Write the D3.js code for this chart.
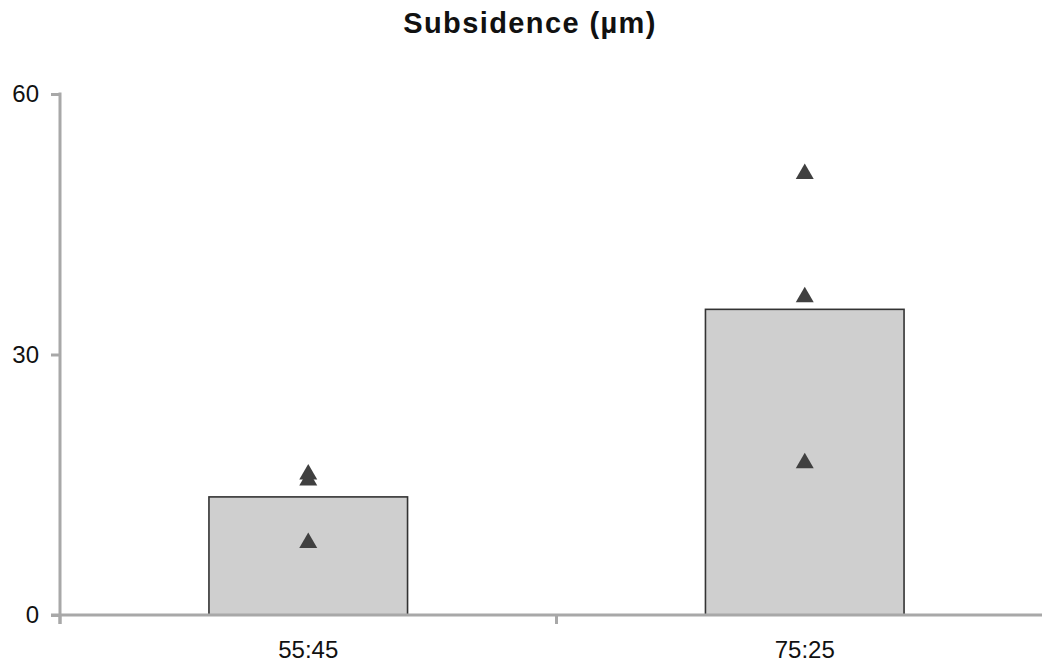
<!DOCTYPE html>
<html>
<head>
<meta charset="utf-8">
<script src="https://cdn.jsdelivr.net/npm/d3@7"></script>
<style>
html,body{margin:0;padding:0;background:#fff;}
svg{display:block;font-family:"Liberation Sans",Arial,Helvetica,sans-serif;}
</style>
</head>
<body>
<svg id="chart" width="1042" height="664"></svg>
<script>
const title = "Subsidence (µm)";
const categories = ["55:45", "75:25"];
const means = [13.6, 35.2];
const points55 = [16.5, 15.8, 8.6];
const points75 = [51.1, 36.9, 17.8];
const yTicks = [0, 30, 60];

const pointSets = [points55, points75];

const svg = d3.select("#chart");
const W = 1042, H = 664;
const x0 = 60, x1 = 1053, yTop = 94, yBot = 615;

const x = d3.scaleBand().domain(categories).range([x0, x1]).paddingInner(0.6).paddingOuter(0.3);
const y = d3.scaleLinear().domain([0, 60]).range([yBot, yTop]);

const axisColor = "#a8a8a8";

// title
svg.append("text")
  .attr("x", 530).attr("y", 33)
  .attr("text-anchor", "middle")
  .attr("font-size", 29).attr("font-weight", "bold")
  .attr("letter-spacing", 1.4)
  .attr("fill", "#111")
  .text(title);

// bars
svg.selectAll("rect.bar").data(categories).enter().append("rect")
  .attr("class", "bar")
  .attr("x", d => x(d))
  .attr("width", x.bandwidth())
  .attr("y", (d, i) => y(means[i]))
  .attr("height", (d, i) => y(0) - y(means[i]))
  .attr("fill", "#cfcfcf")
  .attr("stroke", "#333")
  .attr("stroke-width", 1.6);

// y axis
const yAxis = d3.axisLeft(y).tickValues(yTicks).tickSize(9).tickPadding(12).tickFormat(d3.format("d"));
const gy = svg.append("g").attr("transform", `translate(${x0},0)`).call(yAxis);
gy.select(".domain").remove();
gy.selectAll(".tick line").attr("stroke", axisColor).attr("stroke-width", 3);
gy.selectAll(".tick text").attr("font-size", 24).attr("fill", "#111").attr("font-family", "Liberation Sans, Arial, sans-serif");
svg.append("line").attr("x1", x0).attr("x2", x0).attr("y1", yTop - 1.5).attr("y2", yBot + 9)
  .attr("stroke", axisColor).attr("stroke-width", 3);

// x axis
const xAxis = d3.axisBottom(x).tickSize(0).tickPadding(26);
const gx = svg.append("g").attr("transform", `translate(0,${yBot})`).call(xAxis);
gx.select(".domain").remove();
gx.selectAll(".tick text").attr("font-size", 24).attr("fill", "#111").attr("font-family", "Liberation Sans, Arial, sans-serif");
svg.append("line").attr("x1", x0 - 9).attr("x2", W).attr("y1", yBot).attr("y2", yBot)
  .attr("stroke", axisColor).attr("stroke-width", 3);
// category boundary ticks
const step = x.step();
const boundaries = categories.map((c, i) => x(c) - step * x.paddingInner() / 2).slice(1);
svg.selectAll("line.xtick").data([x0].concat(boundaries, [x0 + 2 * (boundaries[0] - x0)])).enter().append("line")
  .attr("class", "xtick")
  .attr("x1", d => d).attr("x2", d => d)
  .attr("y1", yBot).attr("y2", yBot + 9)
  .attr("stroke", axisColor).attr("stroke-width", 3);

// triangles
const triSize = 140;
const triH = Math.sqrt(triSize / (3 * Math.sqrt(3))) * 3;
const sym = d3.symbol().type(d3.symbolTriangle).size(triSize);
categories.forEach((c, i) => {
  svg.selectAll(null).data(pointSets[i]).enter().append("path")
    .attr("d", sym)
    .attr("transform", d => `translate(${x(c) + x.bandwidth() / 2},${y(d) + triH / 6})`)
    .attr("fill", "#404040");
});
</script>
</body>
</html>
